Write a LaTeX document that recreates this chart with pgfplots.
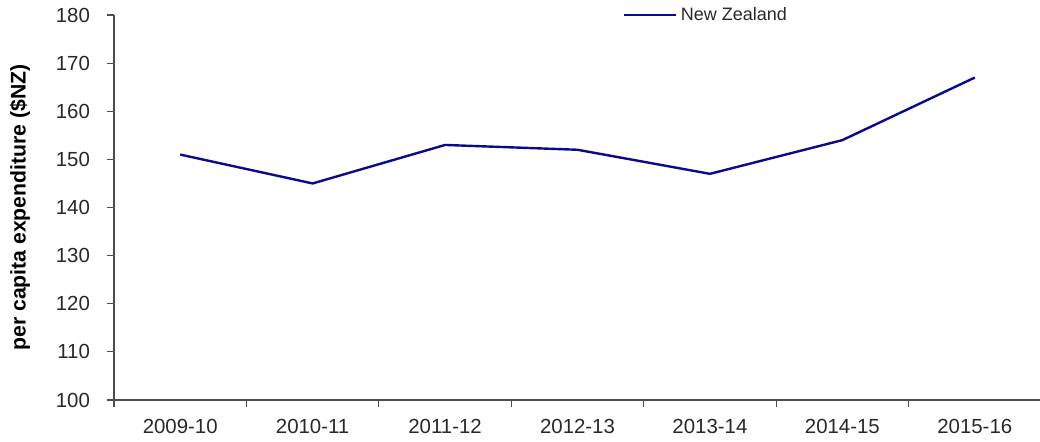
\documentclass[border=0pt]{standalone}
\usepackage{pgfplots}
\pgfplotsset{compat=1.18}
\usepackage{fontspec}
\setmainfont{Liberation Sans}
\definecolor{nz}{RGB}{10,10,140}
\definecolor{txt}{RGB}{40,40,40}
\begin{document}
\begin{tikzpicture}
\path[use as bounding box] (-57pt,-20.5pt) rectangle (463pt,200pt);
\begin{axis}[
  at={(0,0)}, anchor=south west,
  scale only axis, width=463.5pt, height=192.5pt,
  xmin=-0.5, xmax=6.5, ymin=100, ymax=180,
  axis x line*=bottom, axis y line*=left,
  axis line style={draw=black!70, line width=0.6pt},
  xtick={0,...,6},
  xticklabels={2009-10,2010-11,2011-12,2012-13,2013-14,2014-15,2015-16},
  minor xtick={-0.5,0.5,1.5,2.5,3.5,4.5,5.5},
  major x tick style={draw=none},
  minor x tick style={draw=black!70, line width=0.6pt},
  minor tick length=3.5pt,
  ytick={100,110,...,180},
  y tick style={draw=black!70, line width=0.6pt},
  major tick length=3.5pt,
  tick align=outside,
  tick label style={font=\fontsize{10.2}{12}\selectfont, text=txt},
  /pgf/number format/assume math mode=true,
  yticklabel style={xshift=-5pt},
  xticklabel style={yshift=-2.5pt},
  ylabel={per capita expenditure (\$NZ)},
  every axis y label/.style={at={([xshift=-47pt]rel axis cs:0,0.5)}, rotate=90, anchor=center,
    font=\bfseries\fontsize{10.6}{12}\selectfont, text=black},
  legend style={at={(0.548,1.0)}, anchor=west, draw=none, fill=none,
    font=\fontsize{9}{10}\selectfont, text=txt, inner sep=0pt},
  legend image code/.code={\draw[#1] (0pt,0pt) -- (26pt,0pt);},
  clip=false,
]
\addplot[nz, line width=1.2pt] coordinates {
  (0,151) (1,145) (2,153) (3,152) (4,147) (5,154) (6,167)
};
\addlegendentry{New Zealand}
\end{axis}
\end{tikzpicture}
\end{document}
